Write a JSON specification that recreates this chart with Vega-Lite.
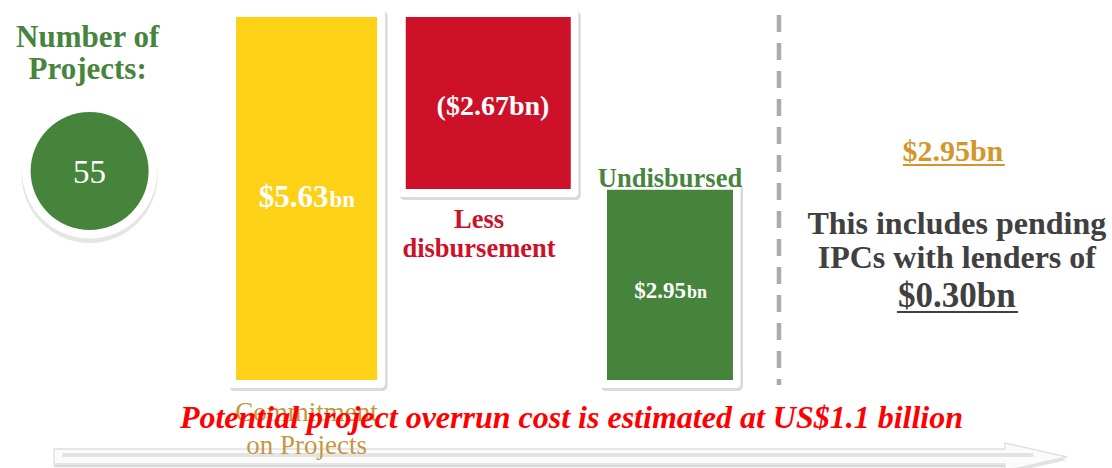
{
  "$schema": "https://vega.github.io/schema/vega-lite/v6.json",
  "width": 1112,
  "height": 468,
  "autosize": {"type": "none"},
  "padding": 0,
  "background": "white",
  "config": {"view": {"stroke": null}},
  "datasets": {
    "bars": [
      {"step": 1, "item": "Commitment on Projects", "high": 5.63, "low": 0},
      {"step": 2, "item": "Less disbursement", "high": 5.63, "low": 2.96},
      {"step": 3, "item": "Undisbursed", "high": 2.95, "low": 0}
    ],
    "notes": [
      {"id": "title", "text": "Number of\nProjects:"},
      {"id": "count", "text": "55"},
      {"id": "commit_val", "text": "$5.63"},
      {"id": "commit_unit", "text": "bn"},
      {"id": "disb_val", "text": "($2.67bn)"},
      {"id": "disb_label", "text": "Less\ndisbursement"},
      {"id": "undisb_label", "text": "Undisbursed"},
      {"id": "undisb_val", "text": "$2.95"},
      {"id": "undisb_unit", "text": "bn"},
      {"id": "commit_label", "text": "Commitment\non Projects"},
      {"id": "overrun", "text": "Potential project overrun cost is estimated at US$1.1 billion"},
      {"id": "right_val", "text": "$2.95bn"},
      {"id": "right_note", "text": "This includes pending\nIPCs with lenders of"},
      {"id": "right_ipc", "text": "$0.30bn"}
    ]
  },
  "layer": [
    {
      "data": {"values": [{"part": "arrow"}]},
      "mark": {"type": "rule", "color": "#c9c9c9", "strokeWidth": 17, "opacity": 0.7},
      "encoding": {
        "x": {"datum": -0.39, "type": "quantitative", "scale": {"domain": [-0.6597, 5.4053], "nice": false, "zero": false}, "axis": null},
        "x2": {"datum": 4.85},
        "y": {"datum": -1.22, "type": "quantitative", "scale": {"domain": [-1.365, 5.893], "nice": false, "zero": false}, "axis": null}
      }
    },
    {
      "data": {"values": [{"part": "arrowhead"}]},
      "mark": {"type": "point", "shape": "M -1 -0.45 L 1 0 L -1 0.45 Z", "filled": true, "size": 3844, "color": "#cfcfcf", "opacity": 0.6, "yOffset": 3},
      "encoding": {
        "x": {"datum": 5.014, "type": "quantitative", "scale": {"domain": [-0.6597, 5.4053], "nice": false, "zero": false}, "axis": null},
        "y": {"datum": -1.195, "type": "quantitative", "scale": {"domain": [-1.365, 5.893], "nice": false, "zero": false}, "axis": null}
      }
    },
    {
      "data": {"values": [{"part": "arrow"}]},
      "mark": {"type": "rule", "color": "#e6e6e6", "strokeWidth": 17},
      "encoding": {
        "x": {"datum": -0.395, "type": "quantitative", "scale": {"domain": [-0.6597, 5.4053], "nice": false, "zero": false}, "axis": null},
        "x2": {"datum": 4.85},
        "y": {"datum": -1.187, "type": "quantitative", "scale": {"domain": [-1.365, 5.893], "nice": false, "zero": false}, "axis": null}
      }
    },
    {
      "data": {"values": [{"part": "arrowhead"}]},
      "mark": {"type": "point", "shape": "M -1 -0.45 L 1 0 L -1 0.45 Z", "filled": true, "size": 3844, "color": "#fbfbfb", "stroke": "#e0e0e0", "strokeWidth": 1.5, "opacity": 1},
      "encoding": {
        "x": {"datum": 5.014, "type": "quantitative", "scale": {"domain": [-0.6597, 5.4053], "nice": false, "zero": false}, "axis": null},
        "y": {"datum": -1.195, "type": "quantitative", "scale": {"domain": [-1.365, 5.893], "nice": false, "zero": false}, "axis": null}
      }
    },
    {
      "data": {"values": [{"part": "arrow"}]},
      "mark": {"type": "rule", "color": "#fbfbfb", "strokeWidth": 13},
      "encoding": {
        "x": {"datum": -0.385, "type": "quantitative", "scale": {"domain": [-0.6597, 5.4053], "nice": false, "zero": false}, "axis": null},
        "x2": {"datum": 4.9},
        "y": {"datum": -1.187, "type": "quantitative", "scale": {"domain": [-1.365, 5.893], "nice": false, "zero": false}, "axis": null}
      }
    },
    {
      "data": {"values": [{"part": "arrow"}]},
      "mark": {"type": "rule", "color": "#e3e3e3", "strokeWidth": 4},
      "encoding": {
        "x": {"datum": -0.345, "type": "quantitative", "scale": {"domain": [-0.6597, 5.4053], "nice": false, "zero": false}, "axis": null},
        "x2": {"datum": 5.0},
        "y": {"datum": -1.164, "type": "quantitative", "scale": {"domain": [-1.365, 5.893], "nice": false, "zero": false}, "axis": null}
      }
    },
    {
      "data": {"name": "bars"},
      "mark": {"type": "bar", "color": "#b5b5b5", "opacity": 0.5, "cornerRadius": 5, "yOffset": -6, "y2Offset": 11, "xOffset": 2},
      "encoding": {
        "x": {"field": "step", "type": "quantitative", "scale": {"domain": [-0.6597, 5.4053], "nice": false, "zero": false}, "axis": null},
        "y": {"field": "high", "type": "quantitative", "scale": {"domain": [-1.365, 5.893], "nice": false, "zero": false}, "axis": null},
        "y2": {"field": "low"},
        "size": {"condition": [{"test": "datum.step === 1", "value": 158}, {"test": "datum.step === 2", "value": 181}], "value": 142}
      }
    },
    {
      "data": {"name": "bars"},
      "mark": {"type": "bar", "color": "white", "cornerRadius": 4, "yOffset": -8, "y2Offset": 8},
      "encoding": {
        "x": {"field": "step", "type": "quantitative", "scale": {"domain": [-0.6597, 5.4053], "nice": false, "zero": false}, "axis": null},
        "y": {"field": "high", "type": "quantitative", "scale": {"domain": [-1.365, 5.893], "nice": false, "zero": false}, "axis": null},
        "y2": {"field": "low"},
        "size": {"condition": [{"test": "datum.step === 1", "value": 157}, {"test": "datum.step === 2", "value": 180}], "value": 141}
      }
    },
    {
      "data": {"name": "bars"},
      "mark": {"type": "bar"},
      "encoding": {
        "x": {"field": "step", "type": "quantitative", "scale": {"domain": [-0.6597, 5.4053], "nice": false, "zero": false}, "axis": null},
        "y": {"field": "high", "type": "quantitative", "scale": {"domain": [-1.365, 5.893], "nice": false, "zero": false}, "axis": null},
        "y2": {"field": "low"},
        "color": {"field": "item", "type": "nominal", "scale": {"domain": ["Commitment on Projects", "Less disbursement", "Undisbursed"], "range": ["#FCD116", "#CD1128", "#46843C"]}, "legend": null},
        "size": {"condition": [{"test": "datum.step === 1", "value": 141}, {"test": "datum.step === 2", "value": 165}], "value": 126}
      }
    },
    {
      "data": {"values": [{"part": "divider"}]},
      "mark": {"type": "rule", "color": "#ababab", "strokeWidth": 4.5, "strokeDash": [17, 11]},
      "encoding": {
        "x": {"datum": 3.6, "type": "quantitative", "scale": {"domain": [-0.6597, 5.4053], "nice": false, "zero": false}, "axis": null},
        "y": {"datum": 5.66, "type": "quantitative", "scale": {"domain": [-1.365, 5.893], "nice": false, "zero": false}, "axis": null},
        "y2": {"datum": -0.078}
      }
    },
    {
      "data": {"values": [{"part": "circle"}]},
      "mark": {"type": "point", "shape": "circle", "filled": true, "size": 18496, "color": "#cfcfcf", "opacity": 0.55, "yOffset": 4},
      "encoding": {
        "x": {"datum": -0.194, "type": "quantitative", "scale": {"domain": [-0.6597, 5.4053], "nice": false, "zero": false}, "axis": null},
        "y": {"datum": 3.241, "type": "quantitative", "scale": {"domain": [-1.365, 5.893], "nice": false, "zero": false}, "axis": null}
      }
    },
    {
      "data": {"values": [{"part": "circle"}]},
      "mark": {"type": "point", "shape": "circle", "filled": true, "size": 18225, "color": "white", "opacity": 1},
      "encoding": {
        "x": {"datum": -0.194, "type": "quantitative", "scale": {"domain": [-0.6597, 5.4053], "nice": false, "zero": false}, "axis": null},
        "y": {"datum": 3.241, "type": "quantitative", "scale": {"domain": [-1.365, 5.893], "nice": false, "zero": false}, "axis": null}
      }
    },
    {
      "data": {"values": [{"part": "circle"}]},
      "mark": {"type": "point", "shape": "circle", "filled": true, "size": 13924, "color": "#46843C", "opacity": 1},
      "encoding": {
        "x": {"datum": -0.194, "type": "quantitative", "scale": {"domain": [-0.6597, 5.4053], "nice": false, "zero": false}, "axis": null},
        "y": {"datum": 3.241, "type": "quantitative", "scale": {"domain": [-1.365, 5.893], "nice": false, "zero": false}, "axis": null}
      }
    },
    {
      "data": {"name": "notes"},
      "transform": [{"filter": "datum.id === 'title'"}],
      "mark": {"type": "text", "font": "Liberation Serif", "fontWeight": "bold", "fontSize": 31, "color": "#47843D", "lineBreak": "\n", "lineHeight": 32, "align": "center", "baseline": "middle"},
      "encoding": {
        "x": {"datum": -0.205, "type": "quantitative", "scale": {"domain": [-0.6597, 5.4053], "nice": false, "zero": false}, "axis": null},
        "y": {"datum": 5.304, "type": "quantitative", "scale": {"domain": [-1.365, 5.893], "nice": false, "zero": false}, "axis": null},
        "text": {"field": "text"}
      }
    },
    {
      "data": {"name": "notes"},
      "transform": [{"filter": "datum.id === 'count'"}],
      "mark": {"type": "text", "font": "Liberation Serif", "fontSize": 33, "color": "white", "align": "center", "baseline": "middle", "dy": 1},
      "encoding": {
        "x": {"datum": -0.194, "type": "quantitative", "scale": {"domain": [-0.6597, 5.4053], "nice": false, "zero": false}, "axis": null},
        "y": {"datum": 3.226, "type": "quantitative", "scale": {"domain": [-1.365, 5.893], "nice": false, "zero": false}, "axis": null},
        "text": {"field": "text"}
      }
    },
    {
      "data": {"name": "notes"},
      "transform": [{"filter": "datum.id === 'commit_val'"}],
      "mark": {"type": "text", "font": "Liberation Serif", "fontWeight": "bold", "fontSize": 31, "color": "white", "align": "right", "baseline": "alphabetic", "dx": 22},
      "encoding": {
        "x": {"datum": 1, "type": "quantitative", "scale": {"domain": [-0.6597, 5.4053], "nice": false, "zero": false}, "axis": null},
        "y": {"datum": 2.683, "type": "quantitative", "scale": {"domain": [-1.365, 5.893], "nice": false, "zero": false}, "axis": null},
        "text": {"field": "text"}
      }
    },
    {
      "data": {"name": "notes"},
      "transform": [{"filter": "datum.id === 'commit_unit'"}],
      "mark": {"type": "text", "font": "Liberation Serif", "fontWeight": "bold", "fontSize": 23, "color": "white", "align": "left", "baseline": "alphabetic", "dx": 23},
      "encoding": {
        "x": {"datum": 1, "type": "quantitative", "scale": {"domain": [-0.6597, 5.4053], "nice": false, "zero": false}, "axis": null},
        "y": {"datum": 2.683, "type": "quantitative", "scale": {"domain": [-1.365, 5.893], "nice": false, "zero": false}, "axis": null},
        "text": {"field": "text"}
      }
    },
    {
      "data": {"name": "notes"},
      "transform": [{"filter": "datum.id === 'disb_val'"}],
      "mark": {"type": "text", "font": "Liberation Serif", "fontWeight": "bold", "fontSize": 28, "color": "white", "align": "center", "baseline": "middle"},
      "encoding": {
        "x": {"datum": 2.026, "type": "quantitative", "scale": {"domain": [-0.6597, 5.4053], "nice": false, "zero": false}, "axis": null},
        "y": {"datum": 4.234, "type": "quantitative", "scale": {"domain": [-1.365, 5.893], "nice": false, "zero": false}, "axis": null},
        "text": {"field": "text"}
      }
    },
    {
      "data": {"name": "notes"},
      "transform": [{"filter": "datum.id === 'disb_label'"}],
      "mark": {"type": "text", "font": "Liberation Serif", "fontWeight": "bold", "fontSize": 26.5, "color": "#CD1128", "lineBreak": "\n", "lineHeight": 29, "align": "center", "baseline": "middle"},
      "encoding": {
        "x": {"datum": 1.949, "type": "quantitative", "scale": {"domain": [-0.6597, 5.4053], "nice": false, "zero": false}, "axis": null},
        "y": {"datum": 2.481, "type": "quantitative", "scale": {"domain": [-1.365, 5.893], "nice": false, "zero": false}, "axis": null},
        "text": {"field": "text"}
      }
    },
    {
      "data": {"name": "notes"},
      "transform": [{"filter": "datum.id === 'undisb_label'"}],
      "mark": {"type": "text", "font": "Liberation Serif", "fontWeight": "bold", "fontSize": 26.5, "color": "#47843D", "align": "center", "baseline": "middle"},
      "encoding": {
        "x": {"datum": 3.0, "type": "quantitative", "scale": {"domain": [-0.6597, 5.4053], "nice": false, "zero": false}, "axis": null},
        "y": {"datum": 3.117, "type": "quantitative", "scale": {"domain": [-1.365, 5.893], "nice": false, "zero": false}, "axis": null},
        "text": {"field": "text"}
      }
    },
    {
      "data": {"name": "notes"},
      "transform": [{"filter": "datum.id === 'undisb_val'"}],
      "mark": {"type": "text", "font": "Liberation Serif", "fontWeight": "bold", "fontSize": 23, "color": "white", "align": "right", "baseline": "alphabetic", "dx": 16},
      "encoding": {
        "x": {"datum": 3.0, "type": "quantitative", "scale": {"domain": [-0.6597, 5.4053], "nice": false, "zero": false}, "axis": null},
        "y": {"datum": 1.271, "type": "quantitative", "scale": {"domain": [-1.365, 5.893], "nice": false, "zero": false}, "axis": null},
        "text": {"field": "text"}
      }
    },
    {
      "data": {"name": "notes"},
      "transform": [{"filter": "datum.id === 'undisb_unit'"}],
      "mark": {"type": "text", "font": "Liberation Serif", "fontWeight": "bold", "fontSize": 18, "color": "white", "align": "left", "baseline": "alphabetic", "dx": 17},
      "encoding": {
        "x": {"datum": 3.0, "type": "quantitative", "scale": {"domain": [-0.6597, 5.4053], "nice": false, "zero": false}, "axis": null},
        "y": {"datum": 1.271, "type": "quantitative", "scale": {"domain": [-1.365, 5.893], "nice": false, "zero": false}, "axis": null},
        "text": {"field": "text"}
      }
    },
    {
      "data": {"name": "notes"},
      "transform": [{"filter": "datum.id === 'commit_label'"}],
      "mark": {"type": "text", "font": "Liberation Serif", "fontSize": 27, "color": "#C8963E", "lineBreak": "\n", "lineHeight": 33, "align": "center", "baseline": "middle"},
      "encoding": {
        "x": {"datum": 1.0, "type": "quantitative", "scale": {"domain": [-0.6597, 5.4053], "nice": false, "zero": false}, "axis": null},
        "y": {"datum": -0.512, "type": "quantitative", "scale": {"domain": [-1.365, 5.893], "nice": false, "zero": false}, "axis": null},
        "text": {"field": "text"}
      }
    },
    {
      "data": {"name": "notes"},
      "transform": [{"filter": "datum.id === 'overrun'"}],
      "mark": {"type": "text", "font": "Liberation Serif", "fontWeight": "bold", "fontStyle": "italic", "fontSize": 32, "color": "#FF0000", "align": "center", "baseline": "middle"},
      "encoding": {
        "x": {"datum": 2.458, "type": "quantitative", "scale": {"domain": [-0.6597, 5.4053], "nice": false, "zero": false}, "axis": null},
        "y": {"datum": -0.59, "type": "quantitative", "scale": {"domain": [-1.365, 5.893], "nice": false, "zero": false}, "axis": null},
        "text": {"field": "text"}
      }
    },
    {
      "data": {"name": "notes"},
      "transform": [{"filter": "datum.id === 'right_val'"}],
      "mark": {"type": "text", "font": "Liberation Serif", "fontWeight": "bold", "fontSize": 30, "color": "#D4962B", "align": "center", "baseline": "middle"},
      "encoding": {
        "x": {"datum": 4.557, "type": "quantitative", "scale": {"domain": [-0.6597, 5.4053], "nice": false, "zero": false}, "axis": null},
        "y": {"datum": 3.536, "type": "quantitative", "scale": {"domain": [-1.365, 5.893], "nice": false, "zero": false}, "axis": null},
        "text": {"field": "text"}
      }
    },
    {
      "data": {"values": [{"part": "underline"}]},
      "mark": {"type": "rule", "color": "#D4962B", "strokeWidth": 2},
      "encoding": {
        "x": {"datum": 4.282, "type": "quantitative", "scale": {"domain": [-0.6597, 5.4053], "nice": false, "zero": false}, "axis": null},
        "x2": {"datum": 4.843},
        "y": {"datum": 3.334, "type": "quantitative", "scale": {"domain": [-1.365, 5.893], "nice": false, "zero": false}, "axis": null}
      }
    },
    {
      "data": {"name": "notes"},
      "transform": [{"filter": "datum.id === 'right_note'"}],
      "mark": {"type": "text", "font": "Liberation Serif", "fontWeight": "bold", "fontSize": 32, "color": "#404040", "lineBreak": "\n", "lineHeight": 34, "align": "center", "baseline": "middle"},
      "encoding": {
        "x": {"datum": 4.579, "type": "quantitative", "scale": {"domain": [-0.6597, 5.4053], "nice": false, "zero": false}, "axis": null},
        "y": {"datum": 2.419, "type": "quantitative", "scale": {"domain": [-1.365, 5.893], "nice": false, "zero": false}, "axis": null},
        "text": {"field": "text"}
      }
    },
    {
      "data": {"name": "notes"},
      "transform": [{"filter": "datum.id === 'right_ipc'"}],
      "mark": {"type": "text", "font": "Liberation Serif", "fontWeight": "bold", "fontSize": 35, "color": "#404040", "align": "center", "baseline": "middle"},
      "encoding": {
        "x": {"datum": 4.579, "type": "quantitative", "scale": {"domain": [-0.6597, 5.4053], "nice": false, "zero": false}, "axis": null},
        "y": {"datum": 1.302, "type": "quantitative", "scale": {"domain": [-1.365, 5.893], "nice": false, "zero": false}, "axis": null},
        "text": {"field": "text"}
      }
    },
    {
      "data": {"values": [{"part": "underline"}]},
      "mark": {"type": "rule", "color": "#404040", "strokeWidth": 2},
      "encoding": {
        "x": {"datum": 4.249, "type": "quantitative", "scale": {"domain": [-0.6597, 5.4053], "nice": false, "zero": false}, "axis": null},
        "x2": {"datum": 4.915},
        "y": {"datum": 1.054, "type": "quantitative", "scale": {"domain": [-1.365, 5.893], "nice": false, "zero": false}, "axis": null}
      }
    }
  ]
}
